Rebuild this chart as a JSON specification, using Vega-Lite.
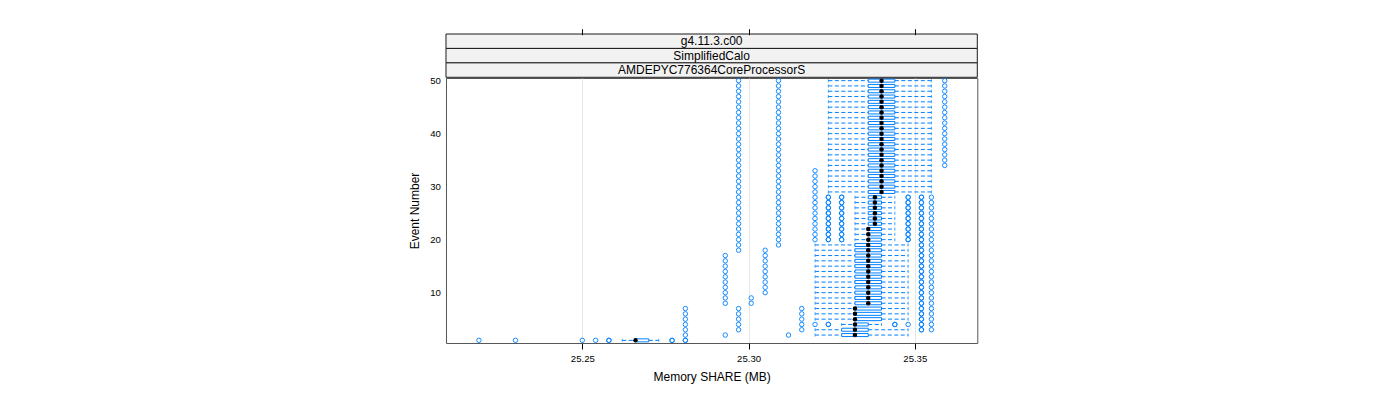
{
"$schema": "https://vega.github.io/schema/vega-lite/v6.json",
"padding": {"left": 408, "top": 27, "right": 5, "bottom": 5},
"bounds": "flush",
"spacing": 0,
"datasets": {
"strip": [
{"level": 1, "label": "g4.11.3.c00"},
{"level": 2, "label": "SimplifiedCalo"},
{"level": 3, "label": "AMDEPYC776364CoreProcessorS"}
],
"box": [
{"e":1,"lo":25.262,"q1":25.266,"md":25.266,"q3":25.27,"hi":25.273},
{"e":2,"lo":25.32,"q1":25.328,"md":25.332,"q3":25.336,"hi":25.348},
{"e":3,"lo":25.32,"q1":25.328,"md":25.332,"q3":25.336,"hi":25.348},
{"e":4,"lo":25.328,"q1":25.332,"md":25.332,"q3":25.336,"hi":25.34},
{"e":5,"lo":25.32,"q1":25.332,"md":25.332,"q3":25.34,"hi":25.348},
{"e":6,"lo":25.32,"q1":25.332,"md":25.332,"q3":25.34,"hi":25.348},
{"e":7,"lo":25.32,"q1":25.332,"md":25.332,"q3":25.34,"hi":25.348},
{"e":8,"lo":25.32,"q1":25.332,"md":25.336,"q3":25.34,"hi":25.348},
{"e":9,"lo":25.32,"q1":25.332,"md":25.336,"q3":25.34,"hi":25.348},
{"e":10,"lo":25.32,"q1":25.332,"md":25.336,"q3":25.34,"hi":25.348},
{"e":11,"lo":25.32,"q1":25.332,"md":25.336,"q3":25.34,"hi":25.348},
{"e":12,"lo":25.32,"q1":25.332,"md":25.336,"q3":25.34,"hi":25.348},
{"e":13,"lo":25.32,"q1":25.332,"md":25.336,"q3":25.34,"hi":25.348},
{"e":14,"lo":25.32,"q1":25.332,"md":25.336,"q3":25.34,"hi":25.348},
{"e":15,"lo":25.32,"q1":25.332,"md":25.336,"q3":25.34,"hi":25.348},
{"e":16,"lo":25.32,"q1":25.332,"md":25.336,"q3":25.34,"hi":25.348},
{"e":17,"lo":25.32,"q1":25.332,"md":25.336,"q3":25.34,"hi":25.348},
{"e":18,"lo":25.32,"q1":25.332,"md":25.336,"q3":25.34,"hi":25.348},
{"e":19,"lo":25.32,"q1":25.332,"md":25.336,"q3":25.34,"hi":25.348},
{"e":20,"lo":25.332,"q1":25.336,"md":25.336,"q3":25.34,"hi":25.344},
{"e":21,"lo":25.332,"q1":25.336,"md":25.336,"q3":25.34,"hi":25.344},
{"e":22,"lo":25.332,"q1":25.336,"md":25.336,"q3":25.34,"hi":25.344},
{"e":23,"lo":25.332,"q1":25.336,"md":25.338,"q3":25.34,"hi":25.344},
{"e":24,"lo":25.332,"q1":25.336,"md":25.338,"q3":25.34,"hi":25.344},
{"e":25,"lo":25.332,"q1":25.336,"md":25.338,"q3":25.34,"hi":25.344},
{"e":26,"lo":25.332,"q1":25.336,"md":25.338,"q3":25.34,"hi":25.344},
{"e":27,"lo":25.332,"q1":25.336,"md":25.338,"q3":25.34,"hi":25.344},
{"e":28,"lo":25.332,"q1":25.336,"md":25.338,"q3":25.34,"hi":25.344},
{"e":29,"lo":25.324,"q1":25.336,"md":25.34,"q3":25.344,"hi":25.355},
{"e":30,"lo":25.324,"q1":25.336,"md":25.34,"q3":25.344,"hi":25.355},
{"e":31,"lo":25.324,"q1":25.336,"md":25.34,"q3":25.344,"hi":25.355},
{"e":32,"lo":25.324,"q1":25.336,"md":25.34,"q3":25.344,"hi":25.355},
{"e":33,"lo":25.324,"q1":25.336,"md":25.34,"q3":25.344,"hi":25.355},
{"e":34,"lo":25.324,"q1":25.336,"md":25.34,"q3":25.344,"hi":25.355},
{"e":35,"lo":25.324,"q1":25.336,"md":25.34,"q3":25.344,"hi":25.355},
{"e":36,"lo":25.324,"q1":25.336,"md":25.34,"q3":25.344,"hi":25.355},
{"e":37,"lo":25.324,"q1":25.336,"md":25.34,"q3":25.344,"hi":25.355},
{"e":38,"lo":25.324,"q1":25.336,"md":25.34,"q3":25.344,"hi":25.355},
{"e":39,"lo":25.324,"q1":25.336,"md":25.34,"q3":25.344,"hi":25.355},
{"e":40,"lo":25.324,"q1":25.336,"md":25.34,"q3":25.344,"hi":25.355},
{"e":41,"lo":25.324,"q1":25.336,"md":25.34,"q3":25.344,"hi":25.355},
{"e":42,"lo":25.324,"q1":25.336,"md":25.34,"q3":25.344,"hi":25.355},
{"e":43,"lo":25.324,"q1":25.336,"md":25.34,"q3":25.344,"hi":25.355},
{"e":44,"lo":25.324,"q1":25.336,"md":25.34,"q3":25.344,"hi":25.355},
{"e":45,"lo":25.324,"q1":25.336,"md":25.34,"q3":25.344,"hi":25.355},
{"e":46,"lo":25.324,"q1":25.336,"md":25.34,"q3":25.344,"hi":25.355},
{"e":47,"lo":25.324,"q1":25.336,"md":25.34,"q3":25.344,"hi":25.355},
{"e":48,"lo":25.324,"q1":25.336,"md":25.34,"q3":25.344,"hi":25.355},
{"e":49,"lo":25.324,"q1":25.336,"md":25.34,"q3":25.344,"hi":25.355},
{"e":50,"lo":25.324,"q1":25.336,"md":25.34,"q3":25.344,"hi":25.355}
],
"out": [
{"e":1,"v":25.2189},{"e":1,"v":25.2299},{"e":1,"v":25.25},{"e":1,"v":25.254},{"e":1,"v":25.258},{"e":1,"v":25.258},{"e":1,"v":25.277},{"e":1,"v":25.277},{"e":1,"v":25.281},{"e":1,"v":25.281},
{"e":2,"v":25.281},{"e":2,"v":25.293},{"e":2,"v":25.312},
{"e":3,"v":25.281},{"e":3,"v":25.297},{"e":3,"v":25.316},{"e":3,"v":25.352},{"e":3,"v":25.352},{"e":3,"v":25.355},
{"e":4,"v":25.281},{"e":4,"v":25.297},{"e":4,"v":25.316},{"e":4,"v":25.32},{"e":4,"v":25.324},{"e":4,"v":25.324},{"e":4,"v":25.344},{"e":4,"v":25.344},{"e":4,"v":25.348},{"e":4,"v":25.352},{"e":4,"v":25.352},{"e":4,"v":25.355},
{"e":5,"v":25.281},{"e":5,"v":25.297},{"e":5,"v":25.316},{"e":5,"v":25.352},{"e":5,"v":25.352},{"e":5,"v":25.355},
{"e":6,"v":25.281},{"e":6,"v":25.297},{"e":6,"v":25.316},{"e":6,"v":25.352},{"e":6,"v":25.352},{"e":6,"v":25.355},
{"e":7,"v":25.281},{"e":7,"v":25.297},{"e":7,"v":25.316},{"e":7,"v":25.352},{"e":7,"v":25.352},{"e":7,"v":25.355},
{"e":8,"v":25.293},{"e":8,"v":25.3008},{"e":8,"v":25.352},{"e":8,"v":25.352},{"e":8,"v":25.355},
{"e":9,"v":25.293},{"e":9,"v":25.3008},{"e":9,"v":25.352},{"e":9,"v":25.352},{"e":9,"v":25.355},
{"e":10,"v":25.293},{"e":10,"v":25.305},{"e":10,"v":25.352},{"e":10,"v":25.352},{"e":10,"v":25.355},
{"e":11,"v":25.293},{"e":11,"v":25.305},{"e":11,"v":25.352},{"e":11,"v":25.352},{"e":11,"v":25.355},
{"e":12,"v":25.293},{"e":12,"v":25.305},{"e":12,"v":25.352},{"e":12,"v":25.352},{"e":12,"v":25.355},
{"e":13,"v":25.293},{"e":13,"v":25.305},{"e":13,"v":25.352},{"e":13,"v":25.352},{"e":13,"v":25.355},
{"e":14,"v":25.293},{"e":14,"v":25.305},{"e":14,"v":25.352},{"e":14,"v":25.352},{"e":14,"v":25.355},
{"e":15,"v":25.293},{"e":15,"v":25.305},{"e":15,"v":25.352},{"e":15,"v":25.352},{"e":15,"v":25.355},
{"e":16,"v":25.293},{"e":16,"v":25.305},{"e":16,"v":25.352},{"e":16,"v":25.352},{"e":16,"v":25.355},
{"e":17,"v":25.293},{"e":17,"v":25.305},{"e":17,"v":25.352},{"e":17,"v":25.352},{"e":17,"v":25.355},
{"e":18,"v":25.297},{"e":18,"v":25.305},{"e":18,"v":25.352},{"e":18,"v":25.352},{"e":18,"v":25.355},
{"e":19,"v":25.297},{"e":19,"v":25.309},{"e":19,"v":25.352},{"e":19,"v":25.352},{"e":19,"v":25.355},
{"e":20,"v":25.297},{"e":20,"v":25.309},{"e":20,"v":25.32},{"e":20,"v":25.324},{"e":20,"v":25.324},{"e":20,"v":25.328},{"e":20,"v":25.328},{"e":20,"v":25.348},{"e":20,"v":25.348},{"e":20,"v":25.352},{"e":20,"v":25.352},{"e":20,"v":25.355},
{"e":21,"v":25.297},{"e":21,"v":25.309},{"e":21,"v":25.32},{"e":21,"v":25.324},{"e":21,"v":25.324},{"e":21,"v":25.328},{"e":21,"v":25.328},{"e":21,"v":25.348},{"e":21,"v":25.348},{"e":21,"v":25.352},{"e":21,"v":25.352},{"e":21,"v":25.355},
{"e":22,"v":25.297},{"e":22,"v":25.309},{"e":22,"v":25.32},{"e":22,"v":25.324},{"e":22,"v":25.324},{"e":22,"v":25.328},{"e":22,"v":25.328},{"e":22,"v":25.348},{"e":22,"v":25.348},{"e":22,"v":25.352},{"e":22,"v":25.352},{"e":22,"v":25.355},
{"e":23,"v":25.297},{"e":23,"v":25.309},{"e":23,"v":25.32},{"e":23,"v":25.324},{"e":23,"v":25.324},{"e":23,"v":25.328},{"e":23,"v":25.328},{"e":23,"v":25.348},{"e":23,"v":25.348},{"e":23,"v":25.352},{"e":23,"v":25.352},{"e":23,"v":25.355},
{"e":24,"v":25.297},{"e":24,"v":25.309},{"e":24,"v":25.32},{"e":24,"v":25.324},{"e":24,"v":25.324},{"e":24,"v":25.328},{"e":24,"v":25.328},{"e":24,"v":25.348},{"e":24,"v":25.348},{"e":24,"v":25.352},{"e":24,"v":25.352},{"e":24,"v":25.355},
{"e":25,"v":25.297},{"e":25,"v":25.309},{"e":25,"v":25.32},{"e":25,"v":25.324},{"e":25,"v":25.324},{"e":25,"v":25.328},{"e":25,"v":25.328},{"e":25,"v":25.348},{"e":25,"v":25.348},{"e":25,"v":25.352},{"e":25,"v":25.352},{"e":25,"v":25.355},
{"e":26,"v":25.297},{"e":26,"v":25.309},{"e":26,"v":25.32},{"e":26,"v":25.324},{"e":26,"v":25.324},{"e":26,"v":25.328},{"e":26,"v":25.328},{"e":26,"v":25.348},{"e":26,"v":25.348},{"e":26,"v":25.352},{"e":26,"v":25.352},{"e":26,"v":25.355},
{"e":27,"v":25.297},{"e":27,"v":25.309},{"e":27,"v":25.32},{"e":27,"v":25.324},{"e":27,"v":25.324},{"e":27,"v":25.328},{"e":27,"v":25.328},{"e":27,"v":25.348},{"e":27,"v":25.348},{"e":27,"v":25.352},{"e":27,"v":25.352},{"e":27,"v":25.355},
{"e":28,"v":25.297},{"e":28,"v":25.309},{"e":28,"v":25.32},{"e":28,"v":25.324},{"e":28,"v":25.324},{"e":28,"v":25.328},{"e":28,"v":25.328},{"e":28,"v":25.348},{"e":28,"v":25.348},{"e":28,"v":25.352},{"e":28,"v":25.352},{"e":28,"v":25.355},
{"e":29,"v":25.297},{"e":29,"v":25.309},{"e":29,"v":25.32},
{"e":30,"v":25.297},{"e":30,"v":25.309},{"e":30,"v":25.32},
{"e":31,"v":25.297},{"e":31,"v":25.309},{"e":31,"v":25.32},
{"e":32,"v":25.297},{"e":32,"v":25.309},{"e":32,"v":25.32},
{"e":33,"v":25.297},{"e":33,"v":25.309},{"e":33,"v":25.32},
{"e":34,"v":25.297},{"e":34,"v":25.309},{"e":34,"v":25.359},
{"e":35,"v":25.297},{"e":35,"v":25.309},{"e":35,"v":25.359},
{"e":36,"v":25.297},{"e":36,"v":25.309},{"e":36,"v":25.359},
{"e":37,"v":25.297},{"e":37,"v":25.309},{"e":37,"v":25.359},
{"e":38,"v":25.297},{"e":38,"v":25.309},{"e":38,"v":25.359},
{"e":39,"v":25.297},{"e":39,"v":25.309},{"e":39,"v":25.359},
{"e":40,"v":25.297},{"e":40,"v":25.309},{"e":40,"v":25.359},
{"e":41,"v":25.297},{"e":41,"v":25.309},{"e":41,"v":25.359},
{"e":42,"v":25.297},{"e":42,"v":25.309},{"e":42,"v":25.359},
{"e":43,"v":25.297},{"e":43,"v":25.309},{"e":43,"v":25.359},
{"e":44,"v":25.297},{"e":44,"v":25.309},{"e":44,"v":25.359},
{"e":45,"v":25.297},{"e":45,"v":25.309},{"e":45,"v":25.359},
{"e":46,"v":25.297},{"e":46,"v":25.309},{"e":46,"v":25.359},
{"e":47,"v":25.297},{"e":47,"v":25.309},{"e":47,"v":25.359},
{"e":48,"v":25.297},{"e":48,"v":25.309},{"e":48,"v":25.359},
{"e":49,"v":25.297},{"e":49,"v":25.309},{"e":49,"v":25.359},
{"e":50,"v":25.297},{"e":50,"v":25.309},{"e":50,"v":25.359}
]
},
"vconcat": [
{
"width": 531.3,
"height": 43.3,
"data": {"name": "strip"},
"view": {"stroke": null},
"encoding": {
"y": {"field": "label", "type": "nominal", "sort": ["g4.11.3.c00", "SimplifiedCalo", "AMDEPYC776364CoreProcessorS"], "scale": {"paddingInner": 0, "paddingOuter": 0}, "axis": null}
},
"layer": [
{"mark": {"type": "bar", "fill": "#f2f2f2", "stroke": "#1a1a1a", "strokeWidth": 1}},
{"mark": {"type": "text", "fontSize": 12, "color": "black", "font": "Liberation Sans"}, "encoding": {"text": {"field": "label"}}}
]
},
{
"width": 531.3,
"height": 265,
"view": {"stroke": "#555555", "strokeWidth": 1},
"resolve": {"axis": {"x": "independent"}},
"layer": [
{
"data": {"name": "box"},
"mark": {"type": "rule", "color": "#0080ff", "strokeDash": [4, 2.5], "strokeWidth": 1},
"encoding": {
"x": {"field": "lo", "type": "quantitative", "scale": {"domain": [25.209, 25.3688], "nice": false, "zero": false, "padding": 0},
"axis": {"orient": "bottom", "values": [25.25, 25.3, 25.35], "format": ".2f", "grid": true, "gridColor": "#e6e6e6", "domain": false, "tickSize": 6, "tickColor": "black", "labelFontSize": 9.6, "labelPadding": 5, "labelColor": "black", "title": "Memory SHARE (MB)", "titleFontSize": 12, "titleFontWeight": "normal", "titleColor": "black", "titlePadding": 8}},
"x2": {"field": "q1"},
"y": {"field": "e", "type": "quantitative", "scale": {"domain": [0.5, 50.5], "nice": false, "zero": false, "padding": 0},
"axis": {"values": [10, 20, 30, 40, 50], "ticks": false, "tickSize": 0, "domain": false, "grid": false, "labelPadding": 5.7, "labelFontSize": 9.6, "labelColor": "black", "title": "Event Number", "titleFontSize": 12, "titleFontWeight": "normal", "titleColor": "black", "titlePadding": 8}}
}
},
{
"data": {"name": "box"},
"mark": {"type": "rule", "color": "#0080ff", "strokeDash": [4, 2.5], "strokeWidth": 1},
"encoding": {
"x": {"field": "q3", "type": "quantitative",
"axis": {"orient": "top", "offset": 43.3, "values": [25.25, 25.3, 25.35], "labels": false, "domain": false, "grid": false, "tickSize": 6, "tickColor": "black", "title": null}},
"x2": {"field": "hi"},
"y": {"field": "e", "type": "quantitative"}
}
},
{
"data": {"name": "box"},
"mark": {"type": "tick", "orient": "vertical", "size": 3, "thickness": 1, "color": "#0080ff"},
"encoding": {
"x": {"field": "lo", "type": "quantitative", "axis": null},
"y": {"field": "e", "type": "quantitative"}
}
},
{
"data": {"name": "box"},
"mark": {"type": "tick", "orient": "vertical", "size": 3, "thickness": 1, "color": "#0080ff"},
"encoding": {
"x": {"field": "hi", "type": "quantitative", "axis": null},
"y": {"field": "e", "type": "quantitative"}
}
},
{
"data": {"name": "box"},
"mark": {"type": "bar", "orient": "horizontal", "size": 3, "fill": "white", "fillOpacity": 0, "stroke": "#0080ff", "strokeWidth": 1},
"encoding": {
"x": {"field": "q1", "type": "quantitative", "axis": null},
"x2": {"field": "q3"},
"y": {"field": "e", "type": "quantitative"}
}
},
{
"data": {"name": "out"},
"mark": {"type": "point", "shape": "circle", "filled": false, "size": 20, "strokeWidth": 0.9, "color": "#0080ff", "opacity": 1},
"encoding": {
"x": {"field": "v", "type": "quantitative", "axis": null},
"y": {"field": "e", "type": "quantitative"}
}
},
{
"data": {"name": "box"},
"mark": {"type": "circle", "size": 20, "color": "black", "opacity": 1},
"encoding": {
"x": {"field": "md", "type": "quantitative", "axis": null},
"y": {"field": "e", "type": "quantitative"}
}
}
]
}
],
"config": {
"font": "Liberation Sans",
"axis": {"labelFont": "Liberation Sans", "titleFont": "Liberation Sans"},
"concat": {"spacing": 0}
}
}
